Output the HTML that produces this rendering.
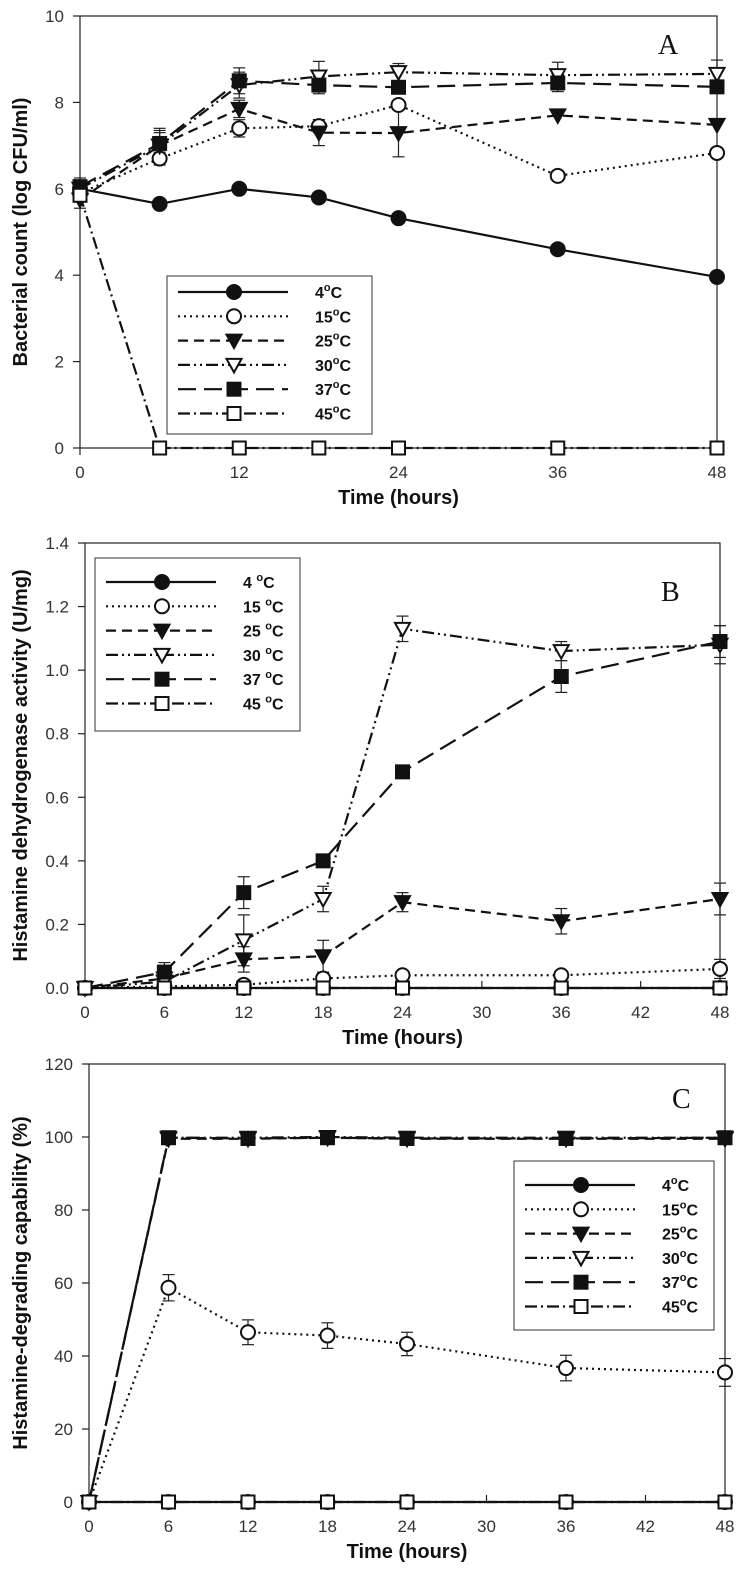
<!DOCTYPE html>
<html><head><meta charset="utf-8">
<style>
body{margin:0;background:#fff;}
svg{display:block;font-family:"Liberation Sans",sans-serif;}
.tick{font-size:17px;fill:#333;}
.ttl{font-size:20px;font-weight:bold;fill:#111;}
.leg{font-size:16px;font-weight:bold;fill:#111;}
.pl{font-family:"Liberation Serif",serif;font-size:28px;fill:#111;}
</style></head>
<body>
<svg id="fig" width="744" height="1582" viewBox="0 0 744 1582" xmlns="http://www.w3.org/2000/svg"></svg>
<script>
// ---- Data ----
const times = [0, 6, 12, 18, 24, 36, 48];
const seriesNames = ["4°C", "15°C", "25°C", "30°C", "37°C", "45°C"];
// Panel A: bacterial count (log CFU/ml)
const a4  = [6.0, 5.65, 6.0, 5.8, 5.32, 4.6, 3.96];
const a15 = [5.9, 6.7, 7.4, 7.45, 7.94, 6.3, 6.83];
const a25 = [5.75, 7.0, 7.85, 7.3, 7.29, 7.7, 7.48];
const a30 = [6.0, 7.0, 8.4, 8.6, 8.7, 8.63, 8.66];
const a37 = [6.05, 7.05, 8.5, 8.4, 8.35, 8.45, 8.36];
const a45 = [5.85, 0, 0, 0, 0, 0, 0];
const aErr15 = [0.2, 0.15, 0.2, 0.15, 0, 0, 0];
const aErr25 = [0.2, 0.3, 0.2, 0.3, 0.55, 0, 0];
const aErr30 = [0.2, 0.35, 0.3, 0.35, 0.2, 0.3, 0.32];
const aErr37 = [0.2, 0.35, 0.3, 0.2, 0.1, 0.2, 0.1];
// Panel B: histamine dehydrogenase activity (U/mg)
const b4  = [0, 0, 0, 0, 0, 0, 0];
const b15 = [0, 0.005, 0.01, 0.03, 0.04, 0.04, 0.06];
const b25 = [0, 0.03, 0.09, 0.10, 0.27, 0.21, 0.28];
const b30 = [0, 0.02, 0.15, 0.28, 1.13, 1.06, 1.08];
const b37 = [0, 0.05, 0.30, 0.40, 0.68, 0.98, 1.09];
const b45 = [0, 0, 0, 0, 0, 0, 0];
const bErr15 = [0, 0, 0, 0.02, 0, 0.01, 0.03];
const bErr25 = [0, 0.02, 0.04, 0.05, 0.03, 0.04, 0.05];
const bErr30 = [0, 0.02, 0.08, 0.04, 0.04, 0.03, 0.06];
const bErr37 = [0, 0.03, 0.05, 0.02, 0.02, 0.05, 0.05];
// Panel C: histamine-degrading capability (%)
const c4  = [0, 0, 0, 0, 0, 0, 0];
const c15 = [0, 58.7, 46.5, 45.6, 43.3, 36.7, 35.5];
const c25 = [0, 99.5, 99.5, 99.8, 99.5, 99.5, 99.5];
const c30 = [0, 99.8, 99.8, 100, 99.8, 99.8, 99.8];
const c37 = [0, 99.8, 99.6, 99.8, 99.6, 99.6, 99.8];
const c45 = [0, 0, 0, 0, 0, 0, 0];
const cErr15 = [0, 3.6, 3.4, 3.5, 3.2, 3.5, 3.8];
const aTicksX = [0, 12, 24, 36, 48];
const bTicksX = [0, 6, 12, 18, 24, 30, 36, 42, 48];
const aTicksY = [0, 2, 4, 6, 8, 10];
const bTicksY = [0, 0.2, 0.4, 0.6, 0.8, 1.0, 1.2, 1.4];
const cTicksY = [0, 20, 40, 60, 80, 100, 120];

const NS = "http://www.w3.org/2000/svg";
const svg = document.getElementById('fig');
const dashes = [null, "2,4", "10,6", "12,4,2,4,2,4", "18,8", "12,4,2,4"];
const markers = ["fc", "oc", "ft", "ot", "fs", "os"];

function mk(tag, attrs, parent) {
  const e = document.createElementNS(NS, tag);
  for (const k in attrs) e.setAttribute(k, attrs[k]);
  (parent || svg).appendChild(e);
  return e;
}
function marker(type, x, y, g) {
  const fill = type[0] === 'f' ? '#111' : '#fff';
  let m;
  if (type[1] === 'c') m = mk('circle', {cx: x, cy: y, r: 7, fill: fill, stroke: '#111', 'stroke-width': 2}, g);
  else if (type[1] === 's') m = mk('rect', {x: x - 6.5, y: y - 6.5, width: 13, height: 13, fill: fill, stroke: '#111', 'stroke-width': 2}, g);
  else m = mk('polygon', {points: (x - 7.5) + ',' + (y - 6) + ' ' + (x + 7.5) + ',' + (y - 6) + ' ' + x + ',' + (y + 7.5), fill: fill, stroke: '#111', 'stroke-width': 2}, g);
  
  
}

function panel(p) {
  const g = mk('g', {});
  
  
  const X = t => p.x0 + (p.x1 - p.x0) * t / 48;
  const Y = v => p.y0 + (p.y1 - p.y0) * v / p.ymax;
  const frame = mk('rect', {x: p.x0, y: p.y1, width: p.x1 - p.x0, height: p.y0 - p.y1, fill: 'none', stroke: '#222', 'stroke-width': 1.2}, g);
  
  
  p.ticksY.forEach(v => {
    mk('line', {x1: p.x0 - 7, x2: p.x0, y1: Y(v), y2: Y(v), stroke: '#222', 'stroke-width': 1.2}, g);
    const t = mk('text', {x: p.x0 - 16, y: Y(v) + 6, 'text-anchor': 'end', class: 'tick'}, g);
    t.textContent = p.fmt(v);
    
    
  });
  p.ticksX.forEach(v => {
    if (p.inX) mk('line', {x1: X(v), x2: X(v), y1: p.y0, y2: p.y0 - 7, stroke: '#222', 'stroke-width': 1.2}, g);
    else mk('line', {x1: X(v), x2: X(v), y1: p.y0, y2: p.y0 + 7, stroke: '#222', 'stroke-width': 1.2}, g);
    const t = mk('text', {x: X(v), y: p.y0 + 30, 'text-anchor': 'middle', class: 'tick'}, g);
    t.textContent = v;
    
    
  });
  const xt = mk('text', {x: (p.x0 + p.x1) / 2, y: p.y0 + 56, 'text-anchor': 'middle', class: 'ttl'}, g);
  xt.textContent = 'Time (hours)';
  
  
  const yt = mk('text', {x: 0, y: 0, 'text-anchor': 'middle', class: 'ttl', transform: 'translate(' + p.ytx + ',' + ((p.y0 + p.y1) / 2) + ') rotate(-90)'}, g);
  yt.textContent = p.ytitle;
  
  
  const lb = mk('text', {x: p.lx, y: p.ly, class: 'pl'}, g);
  lb.textContent = p.id;
  
  
  p.series.forEach((s, i) => {
    const pts = s.map((v, j) => X(times[j]) + ',' + Y(v)).join(' ');
    const pl = mk('polyline', {points: pts, fill: 'none', stroke: '#111', 'stroke-width': 2.2}, g);
    if (dashes[i]) pl.setAttribute('stroke-dasharray', dashes[i]);
    
    
    const err = p.errs[i];
    if (err) s.forEach((v, j) => {
      if (!err[j]) return;
      const x = X(times[j]);
      mk('line', {x1: x, x2: x, y1: Y(v - err[j]), y2: Y(v + err[j]), stroke: '#222', 'stroke-width': 1.2}, g);
      mk('line', {x1: x - 6, x2: x + 6, y1: Y(v + err[j]), y2: Y(v + err[j]), stroke: '#222', 'stroke-width': 1.2}, g);
      mk('line', {x1: x - 6, x2: x + 6, y1: Y(v - err[j]), y2: Y(v - err[j]), stroke: '#222', 'stroke-width': 1.2}, g);
    });
  });
  p.series.forEach((s, i) => s.forEach((v, j) => marker(markers[i], X(times[j]), Y(v), g)));
  const L = p.leg;
  const lg = mk('g', {}, g);
  
  
  mk('rect', {x: L.x, y: L.y, width: L.w, height: L.h, fill: '#fff', stroke: '#333', 'stroke-width': 1}, lg);
  seriesNames.forEach((n, i) => {
    const yy = L.r0 + i * 24.3;
    const ln = mk('line', {x1: L.x + 11, x2: L.x + 121, y1: yy, y2: yy, stroke: '#111', 'stroke-width': 2.2}, lg);
    if (dashes[i]) ln.setAttribute('stroke-dasharray', dashes[i]);
    
    
    marker(markers[i], L.x + 67, yy, lg);
    const t = mk('text', {x: L.x + L.tx, y: yy + 6, class: 'leg'}, lg);
    const num = n.replace('°C', '');
    t.textContent = num + L.sp;
    const sup = mk('tspan', {'font-size': 11, dy: -7}, t);
    sup.textContent = 'o';
    const c = mk('tspan', {dy: 7}, t);
    c.textContent = 'C';
    
    
  });
}

panel({id: 'A', x0: 80, x1: 717, y0: 448, y1: 16, ymax: 10, ticksY: aTicksY, ticksX: aTicksX, inX: false,
  fmt: v => v, ytitle: 'Bacterial count (log CFU/ml)', ytx: 27, lx: 658, ly: 54,
  series: [a4, a15, a25, a30, a37, a45], errs: [null, aErr15, aErr25, aErr30, aErr37, null],
  leg: {x: 167, y: 276, w: 205, h: 158, r0: 292, tx: 148, sp: ''}});
panel({id: 'B', x0: 85, x1: 720, y0: 988, y1: 543, ymax: 1.4, ticksY: bTicksY, ticksX: bTicksX, inX: true,
  fmt: v => v.toFixed(1), ytitle: 'Histamine dehydrogenase activity (U/mg)', ytx: 27, lx: 661, ly: 601,
  series: [b4, b15, b25, b30, b37, b45], errs: [null, bErr15, bErr25, bErr30, bErr37, null],
  leg: {x: 95, y: 558, w: 205, h: 173, r0: 582, tx: 148, sp: ' '}});
panel({id: 'C', x0: 89, x1: 725, y0: 1502, y1: 1064, ymax: 120, ticksY: cTicksY, ticksX: bTicksX, inX: true,
  fmt: v => v, ytitle: 'Histamine-degrading capability (%)', ytx: 27, lx: 672, ly: 1108,
  series: [c4, c15, c25, c30, c37, c45], errs: [null, cErr15, null, null, null, null],
  leg: {x: 514, y: 1161, w: 200, h: 169, r0: 1185, tx: 148, sp: ''}});
</script>
</body></html>
